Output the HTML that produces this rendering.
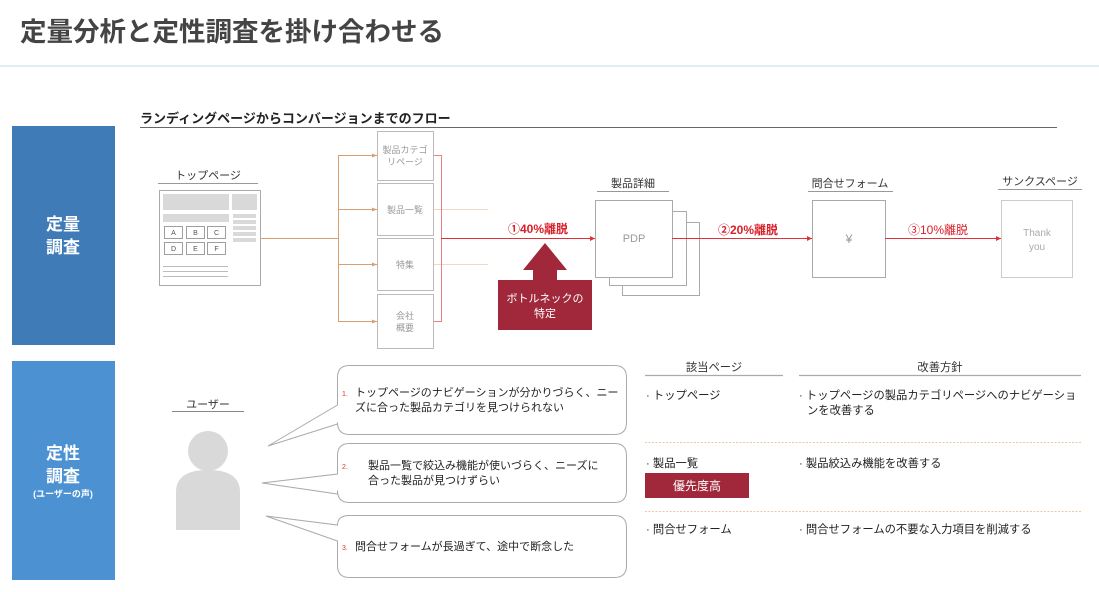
<!DOCTYPE html>
<html><head><meta charset="utf-8"><style>
html,body{margin:0;padding:0;background:#fff;}
svg{display:block;font-family:"Liberation Sans","Noto Sans CJK JP",sans-serif;}
</style></head><body>
<svg width="1099" height="592" viewBox="0 0 1099 592" xmlns="http://www.w3.org/2000/svg">
<defs>
<marker id="ar" markerWidth="6" markerHeight="6" refX="5" refY="3" orient="auto" markerUnits="userSpaceOnUse"><path d="M0,0.5 L5,3 L0,5.5z" fill="#e0303a"/></marker>
<marker id="ao" markerWidth="6" markerHeight="6" refX="5" refY="3" orient="auto" markerUnits="userSpaceOnUse"><path d="M0,1 L5,3 L0,5z" fill="#d8a070"/></marker>
</defs>
<text x="20" y="41" font-size="26.5" font-weight="bold" fill="#444">定量分析と定性調査を掛け合わせる</text>
<rect x="0" y="65" width="1099" height="2" fill="#e3eef2"/>

<rect x="12" y="126" width="103" height="219" fill="#3f7bb6"/>
<text x="63" y="230" font-size="17" font-weight="bold" fill="#fff" text-anchor="middle">定量</text>
<text x="63" y="253" font-size="17" font-weight="bold" fill="#fff" text-anchor="middle">調査</text>
<rect x="12" y="361" width="103" height="219" fill="#4c91d2"/>
<text x="63" y="459" font-size="17" font-weight="bold" fill="#fff" text-anchor="middle">定性</text>
<text x="63" y="482" font-size="17" font-weight="bold" fill="#fff" text-anchor="middle">調査</text>
<text x="63" y="497" font-size="9" font-weight="bold" fill="#fff" text-anchor="middle">(ユーザーの声)</text>

<text x="140" y="123" font-size="13" font-weight="bold" fill="#222">ランディングページからコンバージョンまでのフロー</text>
<line x1="140" y1="127.5" x2="1057" y2="127.5" stroke="#666" stroke-width="1"/>

<text x="208" y="179" font-size="11" fill="#333" text-anchor="middle">トップページ</text>
<line x1="158" y1="183.5" x2="258" y2="183.5" stroke="#999"/>
<rect x="159.5" y="190.5" width="101" height="95" fill="#fff" stroke="#aaa"/>
<rect x="163" y="194" width="66" height="16" fill="#d9d9d9"/>
<rect x="232" y="194" width="25" height="16" fill="#d9d9d9"/>
<rect x="163" y="214" width="66" height="8" fill="#d9d9d9"/>
<g fill="#d9d9d9"><rect x="233" y="214" width="23" height="4"/><rect x="233" y="220" width="23" height="4"/><rect x="233" y="226" width="23" height="4"/><rect x="233" y="232" width="23" height="4"/><rect x="233" y="238" width="23" height="4"/></g>
<g fill="#fff" stroke="#888" stroke-width="0.8">
<rect x="164.5" y="226.5" width="18" height="12"/><rect x="186.5" y="226.5" width="18" height="12"/><rect x="207.5" y="226.5" width="18" height="12"/>
<rect x="164.5" y="242.5" width="18" height="12"/><rect x="186.5" y="242.5" width="18" height="12"/><rect x="207.5" y="242.5" width="18" height="12"/></g>
<g font-size="7" fill="#555" text-anchor="middle"><text x="173.5" y="235">A</text><text x="195.5" y="235">B</text><text x="216.5" y="235">C</text><text x="173.5" y="251">D</text><text x="195.5" y="251">E</text><text x="216.5" y="251">F</text></g>
<g stroke="#bbb"><line x1="163" y1="266.5" x2="228" y2="266.5"/><line x1="163" y1="271.5" x2="228" y2="271.5"/><line x1="163" y1="276.5" x2="228" y2="276.5"/></g>

<g stroke="#d8a070" stroke-width="1" fill="none">
<line x1="260" y1="238.5" x2="338" y2="238.5"/>
<line x1="338.5" y1="155" x2="338.5" y2="321"/>
<line x1="338" y1="155.5" x2="377" y2="155.5" marker-end="url(#ao)"/>
<line x1="338" y1="209.5" x2="377" y2="209.5" marker-end="url(#ao)"/>
<line x1="338" y1="264.5" x2="377" y2="264.5" marker-end="url(#ao)"/>
<line x1="338" y1="321.5" x2="377" y2="321.5" marker-end="url(#ao)"/>
</g>
<g stroke="#f0d8c4"><line x1="433" y1="209.5" x2="488" y2="209.5"/><line x1="433" y1="264.5" x2="488" y2="264.5"/></g>
<polyline points="433,155.5 441.5,155.5 441.5,321.5 433,321.5" stroke="#e88080" fill="none"/>

<g fill="#fff" stroke="#bbb">
<rect x="377.5" y="131.5" width="56" height="49"/>
<rect x="377.5" y="183.5" width="56" height="52"/>
<rect x="377.5" y="238.5" width="56" height="52"/>
<rect x="377.5" y="294.5" width="56" height="54"/></g>
<g font-size="9" fill="#999" text-anchor="middle">
<text x="405" y="153">製品カテゴ</text><text x="405" y="165">リページ</text>
<text x="405" y="213">製品一覧</text>
<text x="405" y="268">特集</text>
<text x="405" y="319">会社</text><text x="405" y="331">概要</text></g>

<line x1="441" y1="238.5" x2="595" y2="238.5" stroke="#e0303a" marker-end="url(#ar)"/>
<text x="538" y="233" font-size="12" font-weight="bold" fill="#d8202a" text-anchor="middle">①40%離脱</text>
<path d="M545,243 L567,270 L557,270 L557,280 L592,280 L592,330 L498,330 L498,280 L533,280 L533,270 L523,270z" fill="#a0283a"/>
<text x="545" y="302" font-size="11" fill="#fff" text-anchor="middle">ボトルネックの</text>
<text x="545" y="317" font-size="11" fill="#fff" text-anchor="middle">特定</text>

<text x="633" y="187" font-size="11" fill="#333" text-anchor="middle">製品詳細</text>
<line x1="597" y1="191.5" x2="669" y2="191.5" stroke="#999"/>
<rect x="622.5" y="222.5" width="77" height="73" fill="#fff" stroke="#aaa"/>
<rect x="609.5" y="211.5" width="77" height="74" fill="#fff" stroke="#aaa"/>
<rect x="595.5" y="200.5" width="77" height="77" fill="#fff" stroke="#aaa"/>
<text x="634" y="242" font-size="11" fill="#999" text-anchor="middle">PDP</text>
<line x1="672" y1="238.5" x2="812" y2="238.5" stroke="#e0303a" marker-end="url(#ar)"/>
<text x="748" y="234" font-size="12" font-weight="bold" fill="#d8202a" text-anchor="middle">②20%離脱</text>

<text x="850" y="187" font-size="11" fill="#333" text-anchor="middle">問合せフォーム</text>
<line x1="808" y1="191.5" x2="893" y2="191.5" stroke="#999"/>
<rect x="812.5" y="200.5" width="73" height="77" fill="#fff" stroke="#aaa"/>
<text x="849" y="243" font-size="12" fill="#999" text-anchor="middle">¥</text>
<line x1="885" y1="238.5" x2="1001" y2="238.5" stroke="#e0303a" marker-end="url(#ar)"/>
<text x="938" y="234" font-size="12" fill="#d8202a" text-anchor="middle">③10%離脱</text>

<text x="1040" y="185" font-size="11" fill="#333" text-anchor="middle">サンクスページ</text>
<line x1="998" y1="189.5" x2="1082" y2="189.5" stroke="#999"/>
<rect x="1001.5" y="200.5" width="71" height="77" fill="#fff" stroke="#ccc"/>
<text x="1037" y="236" font-size="10" fill="#aaa" text-anchor="middle">Thank</text>
<text x="1037" y="250" font-size="10" fill="#aaa" text-anchor="middle">you</text>

<text x="208" y="408" font-size="11" fill="#333" text-anchor="middle">ユーザー</text>
<line x1="172" y1="411.5" x2="244" y2="411.5" stroke="#888"/>
<circle cx="208" cy="451" r="20" fill="#d9d9d9"/>
<path d="M176,530 L176,492 Q176,470 208,470 Q240,470 240,492 L240,530z" fill="#d9d9d9"/>

<g fill="#fff" stroke="#aaa">
<path d="M349.5,365.5 L614.5,365.5 Q626.5,365.5 626.5,377.5 L626.5,422.5 Q626.5,434.5 614.5,434.5 L349.5,434.5 Q337.5,434.5 337.5,422.5 L337.5,424 L268,446 L337.5,405 L337.5,377.5 Q337.5,365.5 349.5,365.5z"/>
<path d="M349.5,443.5 L614.5,443.5 Q626.5,443.5 626.5,455.5 L626.5,490.5 Q626.5,502.5 614.5,502.5 L349.5,502.5 Q337.5,502.5 337.5,490.5 L337.5,494 L262,483 L337.5,474 L337.5,455.5 Q337.5,443.5 349.5,443.5z"/>
<path d="M349.5,515.5 L614.5,515.5 Q626.5,515.5 626.5,527.5 L626.5,565.5 Q626.5,577.5 614.5,577.5 L349.5,577.5 Q337.5,577.5 337.5,565.5 L337.5,541 L266,516 L337.5,525 Q337.5,515.5 349.5,515.5z"/>
</g>
<g font-size="11" fill="#222">
<text x="342" y="396" font-size="7" fill="#d33">1.</text>
<text x="355" y="396">トップページのナビゲーションが分かりづらく、ニー</text>
<text x="355" y="411">ズに合った製品カテゴリを見つけられない</text>
<text x="342" y="469" font-size="7" fill="#d33">2.</text>
<text x="368" y="469">製品一覧で絞込み機能が使いづらく、ニーズに</text>
<text x="368" y="484">合った製品が見つけずらい</text>
<text x="342" y="550" font-size="7" fill="#d33">3.</text>
<text x="355" y="550">問合せフォームが長過ぎて、途中で断念した</text>
</g>

<text x="714" y="371" font-size="11.3" fill="#333" text-anchor="middle">該当ページ</text>
<line x1="645" y1="375.5" x2="783" y2="375.5" stroke="#aaa" stroke-width="1.2"/>
<text x="940" y="371" font-size="11.3" fill="#333" text-anchor="middle">改善方針</text>
<line x1="799" y1="375.5" x2="1081" y2="375.5" stroke="#aaa" stroke-width="1.2"/>
<g font-size="11.3" fill="#222">
<text x="646" y="399">· トップページ</text>
<text x="799" y="399">· トップページの製品カテゴリページへのナビゲーショ</text>
<text x="807" y="414">ンを改善する</text>
<text x="646" y="467">· 製品一覧</text>
<text x="799" y="467">· 製品絞込み機能を改善する</text>
<text x="646" y="533">· 問合せフォーム</text>
<text x="799" y="533">· 問合せフォームの不要な入力項目を削減する</text>
</g>
<g stroke="#e8c8a8" stroke-dasharray="2,1.5"><line x1="645" y1="442.5" x2="1081" y2="442.5"/><line x1="645" y1="511.5" x2="1081" y2="511.5"/></g>
<rect x="645" y="473" width="104" height="25" fill="#a0283a"/>
<text x="697" y="490" font-size="12" fill="#fff" text-anchor="middle">優先度高</text>
</svg>
</body></html>
